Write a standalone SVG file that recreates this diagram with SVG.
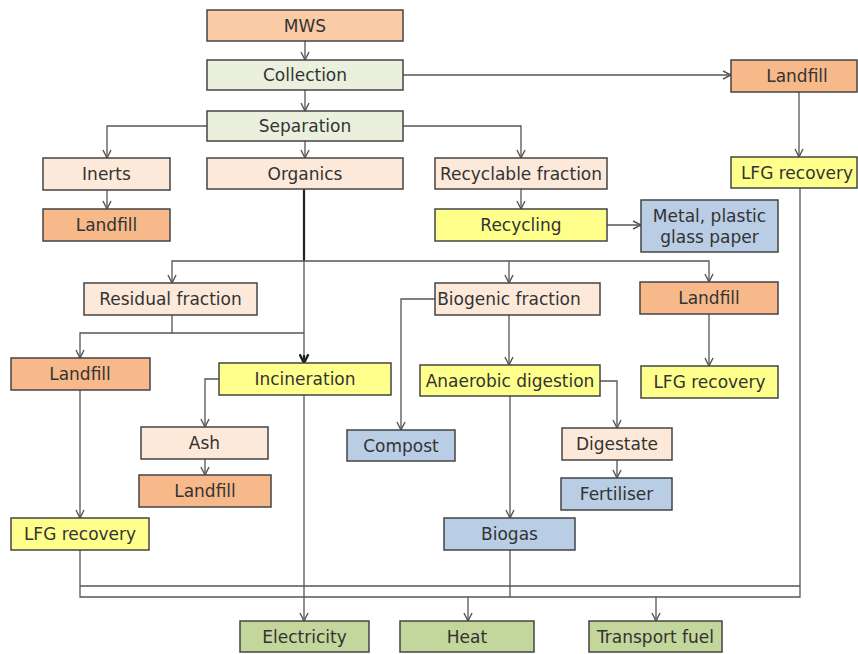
<svg xmlns="http://www.w3.org/2000/svg" width="858" height="654" viewBox="0 0 858 654">
<defs>
<marker id="ar" viewBox="0 0 10 10" refX="9" refY="5" markerWidth="10" markerHeight="10" markerUnits="userSpaceOnUse" orient="auto">
<path d="M1,1 L9,5 L1,9" fill="none" stroke="#555" stroke-width="1.4"/>
</marker>
<marker id="arb" viewBox="0 0 10 10" refX="9" refY="5" markerWidth="11" markerHeight="11" markerUnits="userSpaceOnUse" orient="auto">
<path d="M1,1 L9,5 L1,9" fill="none" stroke="#222" stroke-width="2.2"/>
</marker>
</defs>
<style>
rect{stroke:#444;stroke-width:1.5}
text{font-family:"DejaVu Sans",Verdana,sans-serif;font-size:17px;fill:#333;text-anchor:middle;dominant-baseline:central}
.pe{fill:#FBCAA6}.gr{fill:#EBF0DE}.lt{fill:#FDE9D9}.lf{fill:#F8B98A}.ye{fill:#FFFF8C}.bl{fill:#B9CDE5}.gn{fill:#C3D69B}
.c{fill:none;stroke:#555;stroke-width:1.3}
.t{fill:none;stroke:#222;stroke-width:2.2}
</style>
<rect width="858" height="654" fill="#fff" style="stroke:none"/>
<g id="connectors">
<path class="c" d="M305,41 V60" marker-end="url(#ar)"/>
<path class="c" d="M305,90 V111" marker-end="url(#ar)"/>
<path class="c" d="M403,75 H731" marker-end="url(#ar)"/>
<path class="c" d="M305,141 V158" marker-end="url(#ar)"/>
<path class="c" d="M207,126 H107 V158" marker-end="url(#ar)"/>
<path class="c" d="M403,126 H521 V158" marker-end="url(#ar)"/>
<path class="c" d="M107,190 V209" marker-end="url(#ar)"/>
<path class="c" d="M521,189 V209" marker-end="url(#ar)"/>
<path class="c" d="M607,225 H641" marker-end="url(#ar)"/>
<path class="c" d="M799,92 V157" marker-end="url(#ar)"/>
<path class="t" d="M304,189 V261"/>
<path class="c" d="M304,261 H172 V283" marker-end="url(#ar)"/>
<path class="c" d="M304,261 H709 V282" marker-end="url(#ar)"/>
<path class="c" d="M509,261 V283" marker-end="url(#ar)"/>
<path class="c" d="M304,261 V362"/>
<path class="t" d="M304,355 V363" marker-end="url(#arb)"/>
<path class="c" d="M172,315 V333 H304"/>
<path class="c" d="M172,333 H80 V358" marker-end="url(#ar)"/>
<path class="c" d="M219,379 H205 V427" marker-end="url(#ar)"/>
<path class="c" d="M205,459 V475" marker-end="url(#ar)"/>
<path class="c" d="M80,390 V518" marker-end="url(#ar)"/>
<path class="c" d="M509,315 V365" marker-end="url(#ar)"/>
<path class="c" d="M435,299 H401 V430" marker-end="url(#ar)"/>
<path class="c" d="M600,381 H617 V428" marker-end="url(#ar)"/>
<path class="c" d="M617,460 V478" marker-end="url(#ar)"/>
<path class="c" d="M510,396 V518" marker-end="url(#ar)"/>
<path class="c" d="M709,314 V366" marker-end="url(#ar)"/>
<path class="c" d="M304,395 V621" marker-end="url(#ar)"/>
<path class="c" d="M80,550 V597 H800 V188"/>
<path class="c" d="M80,586 H800"/>
<path class="c" d="M510,550 V597"/>
<path class="c" d="M468,597 V621" marker-end="url(#ar)"/>
<path class="c" d="M656,597 V621" marker-end="url(#ar)"/>
</g>
<g id="mws"><rect class="pe" x="207" y="10" width="196" height="31"/><text x="305" y="25.5">MWS</text></g>
<g id="collection"><rect class="gr" x="207" y="60" width="196" height="30"/><text x="305" y="75">Collection</text></g>
<g id="separation"><rect class="gr" x="207" y="111" width="196" height="30"/><text x="305" y="126">Separation</text></g>
<g id="organics"><rect class="lt" x="207" y="158" width="196" height="31"/><text x="305" y="173.5">Organics</text></g>
<g id="inerts"><rect class="lt" x="43" y="158" width="127" height="32"/><text x="106.5" y="174">Inerts</text></g>
<g id="landfill1"><rect class="lf" x="43" y="209" width="127" height="32"/><text x="106.5" y="225">Landfill</text></g>
<g id="recyclable"><rect class="lt" x="435" y="158" width="172" height="31"/><text x="521" y="173.5">Recyclable fraction</text></g>
<g id="recycling"><rect class="ye" x="435" y="209" width="172" height="32"/><text x="521" y="225">Recycling</text></g>
<g id="metal"><rect class="bl" x="641" y="200" width="137" height="52"/><text x="709.5" y="216">Metal, plastic</text><text x="709.5" y="237">glass paper</text></g>
<g id="landfill-right"><rect class="lf" x="731" y="60" width="126" height="32"/><text x="797" y="76">Landfill</text></g>
<g id="lfg-right"><rect class="ye" x="731" y="157" width="126" height="31"/><text x="797" y="172.5">LFG recovery</text></g>
<g id="residual"><rect class="lt" x="84" y="283" width="173" height="32"/><text x="170.5" y="299">Residual fraction</text></g>
<g id="biogenic"><rect class="lt" x="435" y="283" width="165" height="32"/><text x="509" y="299">Biogenic fraction</text></g>
<g id="landfill-mid"><rect class="lf" x="640" y="282" width="138" height="32"/><text x="709" y="298">Landfill</text></g>
<g id="landfill-left"><rect class="lf" x="11" y="358" width="139" height="32"/><text x="80" y="374">Landfill</text></g>
<g id="incineration"><rect class="ye" x="219" y="363" width="172" height="32"/><text x="305" y="379">Incineration</text></g>
<g id="anaerobic"><rect class="ye" x="420" y="365" width="180" height="31"/><text x="510" y="380.5">Anaerobic digestion</text></g>
<g id="lfg-mid"><rect class="ye" x="641" y="366" width="137" height="32"/><text x="709.5" y="382">LFG recovery</text></g>
<g id="ash"><rect class="lt" x="141" y="427" width="127" height="32"/><text x="204.5" y="443">Ash</text></g>
<g id="landfill-ash"><rect class="lf" x="139" y="475" width="132" height="32"/><text x="205" y="491">Landfill</text></g>
<g id="compost"><rect class="bl" x="347" y="430" width="108" height="31"/><text x="401" y="445.5">Compost</text></g>
<g id="digestate"><rect class="lt" x="562" y="428" width="110" height="32"/><text x="617" y="444">Digestate</text></g>
<g id="fertiliser"><rect class="bl" x="561" y="478" width="111" height="32"/><text x="616.5" y="494">Fertiliser</text></g>
<g id="lfg-left"><rect class="ye" x="11" y="518" width="138" height="32"/><text x="80" y="534">LFG recovery</text></g>
<g id="biogas"><rect class="bl" x="444" y="518" width="131" height="32"/><text x="509.5" y="534">Biogas</text></g>
<g id="electricity"><rect class="gn" x="240" y="621" width="129" height="31"/><text x="304.5" y="636.5">Electricity</text></g>
<g id="heat"><rect class="gn" x="400" y="621" width="134" height="31"/><text x="467" y="636.5">Heat</text></g>
<g id="transport"><rect class="gn" x="589" y="621" width="133" height="31"/><text x="655.5" y="636.5">Transport fuel</text></g>
</svg>
